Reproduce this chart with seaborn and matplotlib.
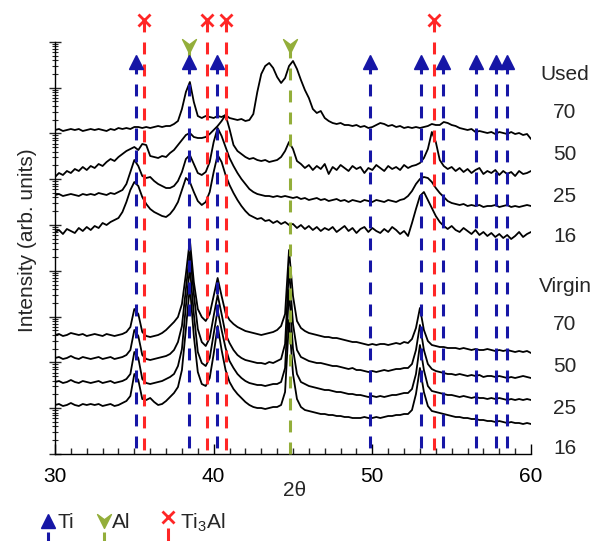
import numpy as np
import pandas as pd
import matplotlib
matplotlib.use("Agg")
import matplotlib.pyplot as plt
from matplotlib.path import Path
import seaborn as sns

# Diffraction angle of the scans (step 0.25 deg)
two_theta = np.linspace(30.0, 60.0, 121)

# Offset log-intensity traces (arb. units, one decade = 45.8 units)
used_70 = [324, 325, 323, 324, 325, 324, 325, 323, 324, 325,
           324, 325, 324, 323, 325, 324, 326, 325, 326, 325,
           327, 327, 326, 327, 326, 327, 328, 327, 328, 328,
           330, 333, 345, 362, 372, 352, 338, 336, 338, 337,
           336, 338, 337, 339, 336, 335, 334, 335, 333, 334,
           340, 362, 380, 388, 391, 386, 377, 371, 376, 388,
           393, 385, 374, 364, 356, 345, 341, 343, 336, 333,
           331, 330, 331, 329, 329, 328, 329, 327, 328, 326,
           327, 329, 331, 330, 328, 329, 327, 328, 326, 327,
           326, 327, 326, 327, 328, 330, 329, 329, 332, 331,
           329, 328, 326, 325, 324, 325, 322, 323, 322, 321,
           322, 320, 322, 321, 320, 322, 320, 321, 319, 320,
           315]
used_50 = [277, 281, 279, 283, 281, 285, 283, 287, 284, 288,
           286, 290, 288, 292, 295, 293, 297, 300, 303, 305,
           307, 304, 310, 309, 298, 297, 296, 298, 297, 301,
           304, 309, 314, 319, 321, 317, 316, 316, 317, 320,
           324, 328, 333, 339, 325, 309, 303, 300, 297, 295,
           296, 294, 293, 294, 292, 293, 294, 297, 303, 312,
           305, 293, 290, 286, 289, 284, 288, 285, 290, 280,
           287, 284, 289, 286, 283, 288, 285, 287, 281, 286,
           284, 289, 286, 283, 288, 285, 287, 284, 289, 286,
           288, 289, 291, 296, 305, 322, 312, 294, 288, 285,
           287, 283, 286, 282, 285, 281, 284, 286, 280, 283,
           281, 284, 279, 283, 280, 282, 278, 283, 280, 281,
           283]
used_25 = [259, 260, 258, 259, 260, 259, 258, 260, 259, 260,
           259, 261, 260, 259, 261, 260, 262, 264, 270, 282,
           294, 288, 278, 276, 277, 273, 270, 268, 266, 266,
           268, 273, 282, 295, 299, 290, 281, 279, 282, 292,
           312, 326, 318, 307, 296, 288, 281, 275, 270, 265,
           262, 260, 259, 258, 258, 257, 258, 257, 258, 257,
           256, 257, 255, 256, 254, 255, 256, 254, 255, 253,
           254, 255, 253, 254, 252, 254, 253, 252, 254, 253,
           252, 254, 253, 252, 254, 253, 252, 254, 255, 258,
           263, 270, 275, 277, 276, 272, 266, 261, 257, 253,
           251, 250, 249, 250, 248, 249, 248, 249, 247, 248,
           248, 249, 247, 248, 249, 247, 248, 247, 248, 249,
           248]
used_16 = [222, 224, 220, 225, 223, 221, 226, 223, 227, 224,
           228, 226, 231, 229, 232, 234, 236, 242, 252, 264,
           272, 268, 257, 250, 245, 242, 240, 238, 237, 240,
           245, 252, 264, 276, 272, 262, 253, 249, 252, 262,
           282, 299, 292, 279, 269, 261, 254, 248, 243, 239,
           237, 235, 236, 233, 234, 231, 233, 230, 232, 229,
           230, 226, 229, 225, 228, 224, 227, 223, 226, 224,
           227, 222, 225, 228, 223, 226, 221, 225, 227, 222,
           226, 223, 221, 225, 222, 227, 224, 220, 223, 218,
           231, 245, 258, 262, 254, 246, 238, 232, 228, 225,
           228, 224, 222, 226, 223, 220, 224, 219, 222, 218,
           221, 217, 220, 216, 219, 215, 218, 222, 217, 220,
           222]
virgin_70 = [119, 120, 118, 119, 121, 120, 119, 120, 118, 119,
             120, 119, 118, 120, 119, 118, 119, 120, 122, 127,
             145, 140, 122, 118, 117, 118, 119, 121, 124, 128,
             132, 137, 150, 180, 214, 172, 145, 137, 133, 140,
             158, 176, 158, 141, 134, 130, 127, 125, 123, 122,
             121, 120, 119, 120, 121, 122, 124, 128, 140, 204,
             158, 133, 126, 123, 121, 120, 119, 118, 117, 117,
             116, 116, 115, 114, 113, 112, 112, 111, 110, 109,
             110, 109, 110, 110, 109, 110, 111, 110, 112, 111,
             115, 126, 146, 124, 113, 109, 108, 107, 107, 106,
             106, 106, 105, 106, 105, 104, 105, 104, 104, 105,
             104, 103, 104, 103, 104, 103, 102, 103, 102, 103,
             101]
virgin_50 = [96, 97, 95, 96, 98, 96, 95, 97, 96, 95,
             96, 97, 95, 96, 97, 95, 96, 97, 99, 104,
             124, 118, 99, 95, 94, 95, 96, 97, 98, 100,
             104, 112, 128, 165, 202, 160, 125, 112, 108, 116,
             138, 159, 140, 120, 111, 104, 99, 96, 94, 93,
             92, 91, 91, 90, 92, 91, 93, 95, 110, 186,
             130, 104, 97, 95, 93, 92, 91, 91, 90, 89,
             88, 88, 87, 86, 85, 86, 84, 84, 83, 82,
             83, 82, 83, 84, 83, 84, 85, 85, 86, 86,
             90, 104, 129, 104, 90, 85, 83, 82, 81, 80,
             80, 79, 80, 79, 78, 79, 78, 79, 77, 78,
             78, 77, 78, 77, 76, 77, 76, 77, 78, 77,
             76]
virgin_25 = [72, 73, 71, 72, 74, 72, 71, 73, 72, 71,
             72, 73, 71, 72, 73, 71, 72, 73, 75, 80,
             102, 96, 75, 71, 70, 71, 72, 73, 75, 77,
             80, 88, 105, 148, 186, 140, 102, 91, 88, 96,
             120, 144, 124, 106, 93, 86, 80, 76, 73, 71,
             70, 69, 69, 68, 69, 70, 70, 72, 86, 164,
             105, 80, 72, 70, 68, 67, 66, 65, 64, 64,
             63, 62, 62, 61, 60, 60, 59, 59, 58, 57,
             58, 57, 58, 57, 58, 59, 59, 60, 61, 61,
             65, 80, 109, 84, 68, 63, 62, 61, 60, 59,
             59, 58, 57, 58, 57, 56, 57, 56, 56, 55,
             56, 55, 56, 55, 54, 55, 54, 55, 54, 55,
             54]
virgin_16 = [49, 50, 48, 49, 51, 49, 48, 50, 49, 50,
             49, 50, 48, 49, 50, 48, 49, 51, 53, 58,
             80, 74, 55, 54, 56, 52, 49, 50, 53, 57,
             61, 67, 84, 125, 168, 118, 82, 70, 68, 76,
             100, 128, 104, 84, 72, 65, 60, 56, 52, 49,
             47, 46, 46, 45, 46, 47, 47, 49, 62, 134,
             80, 55, 47, 44, 43, 42, 41, 40, 40, 39,
             39, 38, 38, 37, 37, 36, 36, 36, 37, 36,
             36, 37, 36, 37, 38, 38, 39, 39, 40, 40,
             44, 60, 86, 62, 48, 43, 42, 41, 40, 39,
             38, 37, 37, 36, 36, 35, 35, 34, 34, 33,
             33, 32, 33, 32, 31, 32, 31, 31, 30, 31,
             30]

# Reference peak positions (2theta, deg)
ti_peaks = [35.1, 38.45, 40.2, 49.83, 53.04, 54.47, 56.52, 57.8, 58.46]
al_peaks = [38.45, 44.79]
ti3al_peaks = [35.6, 39.6, 40.8, 53.86]

# Side labels: (text, height)
used_labels = [("Used", 380), ("70", 341), ("50", 299), ("25", 258), ("16", 218)]
virgin_labels = [("Virgin", 167), ("70", 129), ("50", 87), ("25", 45), ("16", 6)]

traces = {
    "used_70": used_70, "used_50": used_50, "used_25": used_25, "used_16": used_16,
    "virgin_70": virgin_70, "virgin_50": virgin_50, "virgin_25": virgin_25,
    "virgin_16": virgin_16,
}
df = pd.concat(
    [pd.DataFrame({"two_theta": two_theta, "intensity": vals, "trace": name})
     for name, vals in traces.items()],
    ignore_index=True,
)

sns.set_theme(style="ticks")
plt.rcParams["font.family"] = ["Liberation Sans", "DejaVu Sans"]
plt.rcParams["mathtext.fontset"] = "custom"
plt.rcParams["mathtext.rm"] = "Liberation Sans"
plt.rcParams["mathtext.it"] = "Liberation Sans:italic"
plt.rcParams["mathtext.bf"] = "Liberation Sans:bold"

BLUE = "#1616A6"
RED = "#FF2626"
GREEN = "#93AE3A"
DECADE = 45.8
FS = 15

W, H = 604, 541
fig = plt.figure(figsize=(W / 100, H / 100), dpi=100)
ax = fig.add_axes([55 / W, 87 / H, 476 / W, 440 / H])

sns.lineplot(data=df, x="two_theta", y="intensity", units="trace",
             estimator=None, color="black", linewidth=1.3, ax=ax,
             legend=False, zorder=2)

dash = dict(lw=2.2, dashes=(3.9, 3.3), solid_capstyle="butt", clip_on=False)

# Arrow-head marker for Al
al_marker = Path([(0, -1), (1, 1), (0, 0.25), (-1, 1), (0, -1)],
                 [Path.MOVETO, Path.LINETO, Path.LINETO, Path.LINETO,
                  Path.CLOSEPOLY])

TI_Y, AL_Y, TI3AL_Y = 392, 408, 434
ax.plot([al_peaks[1], al_peaks[1]], [AL_Y, 0], color=GREEN, zorder=3, **dash)
ax.plot([al_peaks[0], al_peaks[0]], [AL_Y, TI_Y], color=GREEN, lw=2.2,
        zorder=3, clip_on=False)
for x in ti_peaks:
    ax.plot([x, x], [TI_Y, 0], color=BLUE, zorder=3, **dash)
for x in ti3al_peaks:
    ax.plot([x, x], [TI3AL_Y, 0], color=RED, zorder=3, **dash)

ax.plot(ti_peaks, [TI_Y] * len(ti_peaks), linestyle="none", marker="^",
        ms=10, color=BLUE, mec=BLUE, zorder=4, clip_on=False)
ax.plot(al_peaks, [AL_Y] * len(al_peaks), linestyle="none", marker=al_marker,
        ms=10, color=GREEN, mec=GREEN, zorder=4, clip_on=False)
ax.plot(ti3al_peaks, [TI3AL_Y] * len(ti3al_peaks), linestyle="none",
        marker="x", ms=8, mew=2.0, color=RED, zorder=4, clip_on=False)

ax.set_xlim(30, 60)
ax.set_ylim(0, 440)
ax.set_xlabel("")
ax.set_ylabel("")
sns.despine(ax=ax)
ax.spines["left"].set_bounds(0, 9 * DECADE)
for s in ("left", "bottom"):
    ax.spines[s].set_linewidth(1.0)
    ax.spines[s].set_color("black")

ax.set_xticks([30, 40, 50, 60])
ax.set_xticks(np.arange(30, 61, 1), minor=True)
ax.set_yticks([k * DECADE for k in range(10)])
ax.set_yticks([(k + np.log10(m)) * DECADE for k in range(9) for m in range(2, 10)],
              minor=True)
ax.set_yticklabels([])
ax.tick_params(axis="x", which="major", direction="in", length=7, width=1,
               labelsize=FS, pad=9, colors="black")
ax.tick_params(axis="x", which="minor", direction="in", length=4, width=1)
ax.tick_params(axis="y", which="major", direction="inout", length=8, width=1)
ax.tick_params(axis="y", which="minor", direction="inout", length=4, width=0.8)

label_x = 60 + (565 - 531) / (476 / 30)
for text, y in used_labels + virgin_labels:
    ax.text(label_x, y, text, ha="center", va="center", fontsize=FS,
            clip_on=False)

fig.text(295 / W, 1 - 490 / H, "2θ", ha="center", va="center", fontsize=FS)
fig.text(28 / W, 1 - 240 / H, "Intensity (arb. units)", rotation=90,
         ha="center", va="center", fontsize=FS)

# Legend strip along the bottom edge
lax = fig.add_axes([0, 0, 1, 65 / H])
lax.set_xlim(0, W)
lax.set_ylim(0, 65)
lax.axis("off")
items = [(47.5, 20, "^", BLUE, "Ti", 57),
         (103.5, 20, al_marker, GREEN, "Al", 112),
         (167.5, 24, "x", RED, "Ti$_3$Al", 180)]
for mx, my, mk, col, txt, tx in items:
    lax.plot([mx, mx], [my - 11, 0], color=col, lw=2.2, solid_capstyle="butt")
    if mk == "x":
        lax.plot([mx], [my], marker="x", ms=8, mew=2.0, color=col,
                 linestyle="none")
    else:
        lax.plot([mx], [my], marker=mk, ms=10, color=col, mec=col,
                 linestyle="none")
    lax.text(tx, 18, txt, ha="left", va="center", fontsize=FS)

fig.savefig("out.png", dpi=100)
